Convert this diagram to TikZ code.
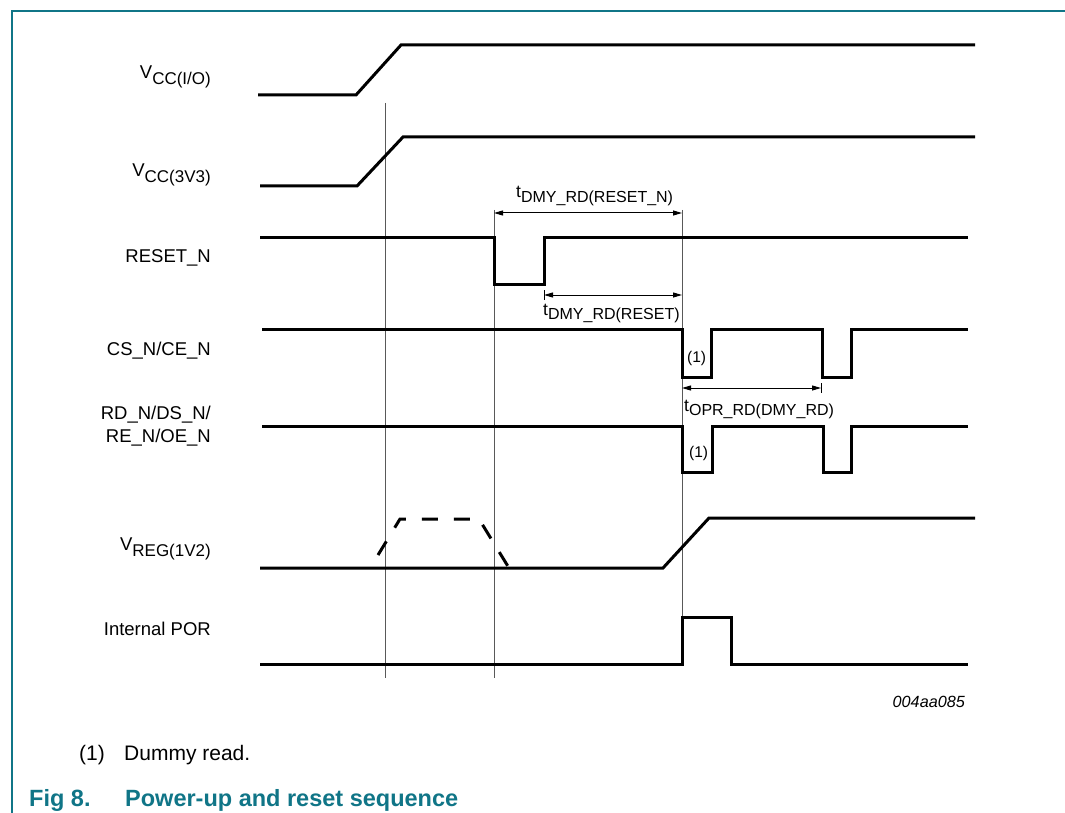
\documentclass[tikz,border=0pt]{standalone}
\usepackage{fontspec}
\setmainfont{Liberation Sans}
\usetikzlibrary{arrows.meta}
\definecolor{nxpteal}{RGB}{16,117,135}
\newcommand\lblfont{\fontsize{18.5}{23}\selectfont}
\newcommand\subfnt{\fontsize{17}{20}\selectfont}
\newcommand\tfnt{\fontsize{17.5}{20}\selectfont}
\newcommand\tsubfnt{\fontsize{16}{18}\selectfont}
\newcommand\lsub[1]{\raisebox{-6pt}{\subfnt #1}}
\newcommand\tsub[1]{\raisebox{-4.5pt}{\tsubfnt #1}}
\begin{document}
\begin{tikzpicture}[x=1pt,y=-1pt,
  sig/.style={line width=3pt, line join=miter},
  guide/.style={line width=1pt, draw=black!65},
  tickline/.style={line width=1pt, draw=black},
  dim/.style={line width=1pt, {Triangle[length=9pt,width=5pt]}-{Triangle[length=9pt,width=5pt]}},
  lbl/.style={inner sep=0pt, anchor=base east, font=\lblfont, align=right},
  tlbl/.style={inner sep=0pt, anchor=base west, font=\tfnt},
  note/.style={inner sep=0pt, anchor=base west, font=\fontsize{15.5}{17}\selectfont},
  foot/.style={inner sep=0pt, anchor=base west, font=\fontsize{21}{24}\selectfont},
  figcap/.style={inner sep=0pt, anchor=base west, font=\fontsize{23.5}{26}\selectfont\bfseries, text=nxpteal}]
\useasboundingbox (0,0) rectangle (1065,813);
% frame
\draw[nxpteal, line width=1.5pt] (12,813) -- (12,11) -- (1065,11);
% guide lines
\coordinate (g1t) at (385,103); \coordinate (g1b) at (385,678);
\coordinate (g2t) at (494,210); \coordinate (g2b) at (494,678);
\coordinate (g3t) at (682,210); \coordinate (g3b) at (682,664);
\draw[guide] (g1t) -- (g1b);
\draw[guide] (g2t) -- (g2b);
\draw[guide] (g3t) -- (g3b);
% signals
\draw[sig] (258,95) -- (356,95) -- (401,45) -- (975,45);
\draw[sig] (260,186) -- (357,186) -- (403,137) -- (975,137);
\draw[sig] (260,237) -- (494,237) -- (494,284) -- (544,284) -- (544,237) -- (968,237);
\draw[sig] (262,329) -- (682,329) -- (682,377) -- (711,377) -- (711,329) -- (822,329) -- (822,377) -- (851,377) -- (851,329) -- (968,329);
\draw[sig] (262,426) -- (682,426) -- (682,472) -- (712,472) -- (712,426) -- (823,426) -- (823,472) -- (851,472) -- (851,426) -- (968,426);
\draw[sig] (260,568) -- (663,568) -- (709,518) -- (975,518);
\draw[sig, dash pattern=on 16pt off 16pt] (378,555) -- (400,519) -- (479,519) -- (509,568);
\draw[sig] (260,664) -- (682,664) -- (682,617) -- (731,617) -- (731,664) -- (968,664);
% dimension arrows
\coordinate (a1l) at (494,213); \coordinate (a1r) at (682,213);
\coordinate (a2l) at (544,295); \coordinate (a2r) at (682,295);
\coordinate (a3l) at (682,388); \coordinate (a3r) at (821,388);
\coordinate (k2t) at (544,290); \coordinate (k2b) at (544,300);
\coordinate (k3t) at (821,383); \coordinate (k3b) at (821,393);
\draw[dim] (a1l) -- (a1r);
\draw[dim] (a2l) -- (a2r);
\draw[dim] (a3l) -- (a3r);
\draw[tickline] (k2t) -- (k2b);
\draw[tickline] (k3t) -- (k3b);
% timing labels
\node[tlbl] (t1) at (516,198) {t\tsub{DMY\_RD(RESET\_N)}};
\node[tlbl] (t2) at (543,315) {t\tsub{DMY\_RD(RESET)}};
\node[tlbl] (t3) at (684,411) {t\tsub{OPR\_RD(DMY\_RD)}};
\node[note] (n1) at (687,362) {(1)};
\node[note] (n2) at (689,457) {(1)};
% signal labels
\node[lbl] (lvio) at (211,79) {V\lsub{CC(I/O)}};
\node[lbl] (lv33) at (211,177) {V\lsub{CC(3V3)}};
\node[lbl] (lrst) at (211,262) {RESET\_N};
\node[lbl] (lcs) at (211,355) {CS\_N/CE\_N};
\node[lbl] (lrd) at (211,442) {RD\_N/DS\_N/\\RE\_N/OE\_N};
\node[lbl] (lreg) at (211,550) {V\lsub{REG(1V2)}};
\node[lbl] (lpor) at (211,635) {Internal POR};
% id, footnote, caption
\node[inner sep=0pt, anchor=base east, font=\fontsize{16.2}{19}\selectfont\itshape] (fid) at (965,707) {004aa085};
\node[foot] (f1) at (79,760) {(1)};
\node[foot] (f2) at (124,760) {Dummy read.};
\node[figcap] (c1) at (29,806) {Fig 8.};
\node[figcap] (c2) at (125,806) {Power-up and reset sequence};
\end{tikzpicture}
\end{document}
